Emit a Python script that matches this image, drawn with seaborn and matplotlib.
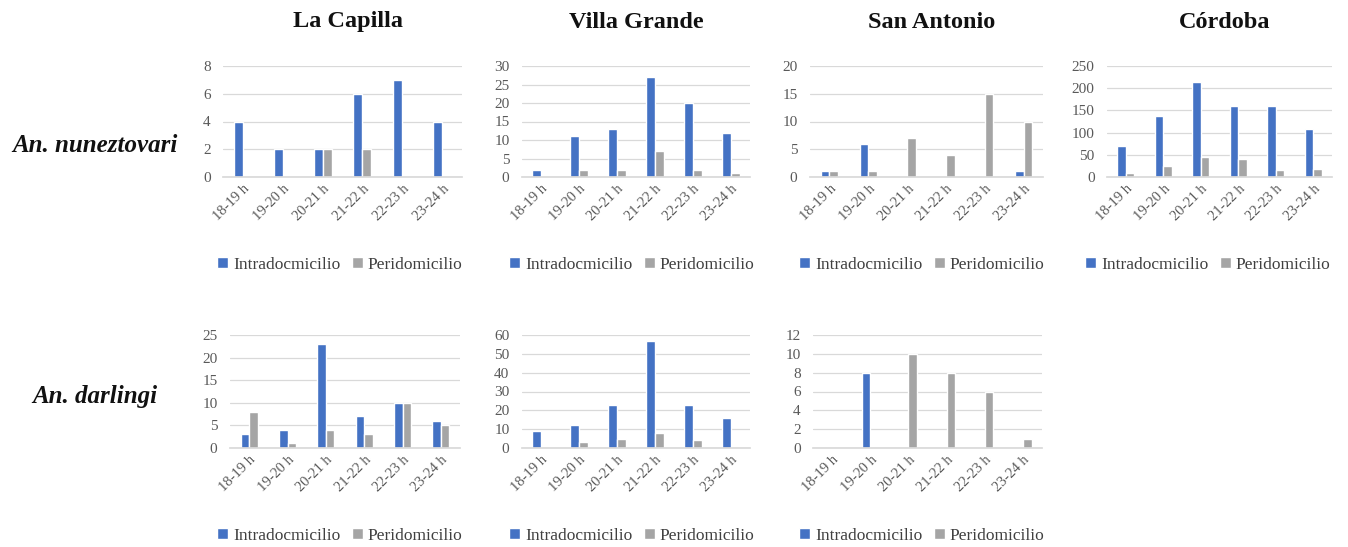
import matplotlib
matplotlib.use("Agg")
import matplotlib.pyplot as plt
import seaborn as sns
import pandas as pd

sns.set_theme(style="white")
plt.rcParams['font.family'] = ['Liberation Serif', 'DejaVu Serif']

hours = ["18-19 h", "19-20 h", "20-21 h", "21-22 h", "22-23 h", "23-24 h"]
series_names = ["Intradocmicilio", "Peridomicilio"]
sites = ["La Capilla", "Villa Grande", "San Antonio", "Córdoba"]
species = ["An. nuneztovari", "An. darlingi"]

# An. nuneztovari
nun_lc_intra = [4, 2, 2, 6, 7, 4]
nun_lc_peri = [0, 0, 2, 2, 0, 0]
nun_vg_intra = [2, 11, 13, 27, 20, 12]
nun_vg_peri = [0, 2, 2, 7, 2, 1]
nun_sa_intra = [1, 6, 0, 0, 0, 1]
nun_sa_peri = [1, 1, 7, 4, 15, 10]
nun_co_intra = [70, 138, 213, 160, 160, 107]
nun_co_peri = [10, 25, 45, 40, 15, 18]

# An. darlingi
dar_lc_intra = [3, 4, 23, 7, 10, 6]
dar_lc_peri = [8, 1, 4, 3, 10, 5]
dar_vg_intra = [9, 12, 23, 57, 23, 16]
dar_vg_peri = [0, 3, 5, 8, 4, 0]
dar_sa_intra = [0, 8, 0, 0, 0, 0]
dar_sa_peri = [0, 0, 10, 8, 6, 1]

colors = ["#4472C4", "#A5A5A5"]

W, H = 1348, 547
fig = plt.figure(figsize=(W / 100, H / 100), dpi=100)

def px_axes(x0, x1, ytop, ybot):
    return fig.add_axes([x0 / W, 1 - ybot / H, (x1 - x0) / W, (ybot - ytop) / H])

panels = [
    # (intra, peri, x0, x1, ytop, ybot, ymax, step, legend centre x)
    (nun_lc_intra, nun_lc_peri, 223, 462, 66, 177, 8, 2, 340),
    (nun_vg_intra, nun_vg_peri, 522, 750, 66, 177, 30, 5, 632),
    (nun_sa_intra, nun_sa_peri, 810, 1043, 66, 177, 20, 5, 922),
    (nun_co_intra, nun_co_peri, 1107, 1332, 66, 177, 250, 50, 1208),
    (dar_lc_intra, dar_lc_peri, 230, 460, 335, 448, 25, 5, 340),
    (dar_vg_intra, dar_vg_peri, 522, 750, 335, 448, 60, 10, 632),
    (dar_sa_intra, dar_sa_peri, 813, 1042, 335, 448, 12, 2, 922),
]

for intra, peri, x0, x1, yt, yb, ymax, step, lx in panels:
    ax = px_axes(x0, x1, yt, yb)
    df = pd.DataFrame({
        "hora": hours * 2,
        "valor": list(intra) + list(peri),
        "serie": [series_names[0]] * 6 + [series_names[1]] * 6,
    })
    sns.barplot(data=df, x="hora", y="valor", hue="serie", palette=colors,
                width=0.45, ax=ax, errorbar=None, legend=True, saturation=1)
    ax.set_ylim(0, ymax)
    ax.set_yticks(range(0, ymax + 1, step))
    ax.set_xlabel("")
    ax.set_ylabel("")
    ax.yaxis.grid(True, color="#D9D9D9", linewidth=0.9)
    ax.set_axisbelow(True)
    for s in ["top", "right", "left"]:
        ax.spines[s].set_visible(False)
    ax.spines["bottom"].set_color("#D9D9D9")
    ax.tick_params(axis="x", length=0, labelsize=10.5, colors="#595959", pad=4)
    ax.tick_params(axis="y", length=0, labelsize=11, colors="#595959", pad=9)
    for lab in ax.get_xticklabels():
        lab.set_rotation(45)
        lab.set_ha("right")
        lab.set_rotation_mode("anchor")
    ax.set_xlim(-0.5, 5.5)
    leg_y = 1 - ((yb + 88) / H)
    handles, labels = ax.get_legend_handles_labels()
    ax.get_legend().remove()
    ax.legend(handles, labels, loc="center", ncol=2, frameon=False,
              bbox_to_anchor=(lx / W, leg_y), bbox_transform=fig.transFigure,
              fontsize=12.5, handlelength=0.6, handleheight=0.6, handletextpad=0.3,
              columnspacing=0.7, labelcolor="#404040")

title_x = [348, 636, 932, 1225]
for name, x in zip(sites, title_x):
    fig.text(x / W, 1 - 22 / H, name, ha="center", va="center", fontsize=17.5,
             fontweight="bold", color="#111111")

fig.text(95 / W, 1 - 146 / H, species[0], ha="center", va="center", fontsize=18,
         fontweight="bold", fontstyle="italic", color="#111111")
fig.text(95 / W, 1 - 397 / H, species[1], ha="center", va="center", fontsize=18,
         fontweight="bold", fontstyle="italic", color="#111111")

fig.savefig("out.png", dpi=100, facecolor="white")
